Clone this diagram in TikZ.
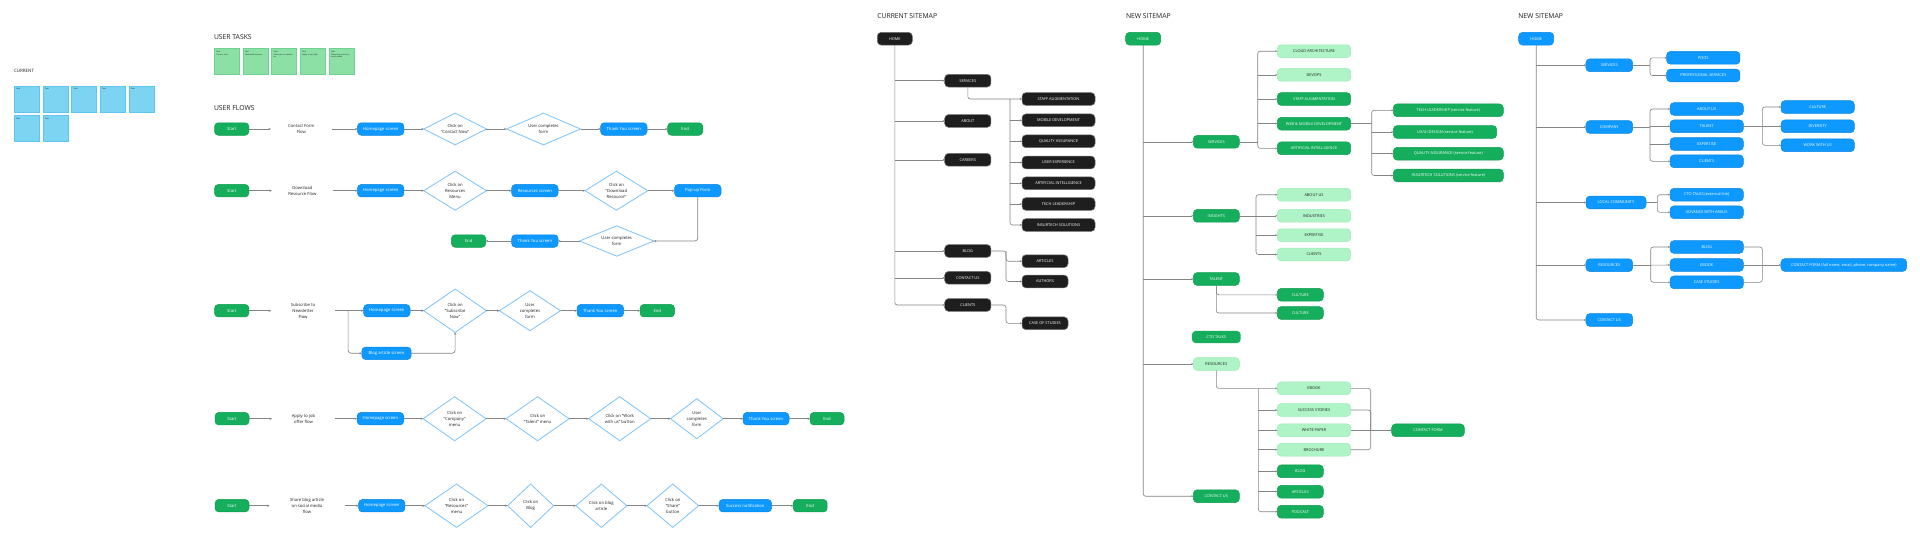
\documentclass[tikz,border=0pt]{standalone}
\usepackage{fontspec}
\setmainfont{Open Sans}
\usetikzlibrary{shapes.geometric,arrows.meta}
\definecolor{fgreen}{HTML}{14AE5C}
\definecolor{fgreenb}{HTML}{0F9D50}
\definecolor{flight}{HTML}{AFF4C6}
\definecolor{flightb}{HTML}{9BEBB6}
\definecolor{fblue}{HTML}{0D99FF}
\definecolor{fblueb}{HTML}{0B86E0}
\definecolor{fblack}{HTML}{1E1E1E}
\definecolor{dia}{HTML}{7CC4FA}
\definecolor{cgray}{HTML}{858585}
\definecolor{stblue}{HTML}{7DD3F2}
\definecolor{stblueb}{HTML}{5EC6EC}
\definecolor{stgreen}{HTML}{8CE0A6}
\definecolor{stgreenb}{HTML}{6ED392}
\definecolor{ink}{HTML}{1E1E1E}
\begin{document}
\begin{tikzpicture}[x=1pt,y=-1pt,
  every node/.style={inner sep=0pt, outer sep=0pt},
  hdr/.style={anchor=west, font=\fontsize{6.8}{8}\selectfont, text=ink},
  pill/.style={rounded corners=3.8pt, minimum height=12.5pt, align=center, font=\fontsize{4.2}{5}\selectfont, line width=0.5pt},
  gflow/.style={pill, fill=fgreen, draw=fgreenb, text=white},
  bflow/.style={pill, fill=fblue, draw=fblueb, text=white},
  dmd/.style={diamond, aspect=1.6, draw=dia, fill=white, line width=0.8pt, align=center, font=\fontsize{4.2}{6}\selectfont, text=ink},
  ftext/.style={align=center, font=\fontsize{4.2}{6}\selectfont, text=ink},
  farr/.style={draw=cgray, line width=0.7pt, -{Stealth[length=2.4pt,width=2.2pt]}},
  fline/.style={draw=cgray, line width=0.7pt},
  sm/.style={rounded corners=3.8pt, minimum height=12.7pt, align=center, font=\fontsize{3.9}{5}\selectfont, line width=0.5pt},
  knode/.style={sm, fill=fblack, draw=black!55, text=white},
  gnode/.style={sm, fill=fgreen, draw=fgreenb, text=white},
  lnode/.style={sm, fill=flight, draw=flightb, text=ink},
  bnode/.style={sm, fill=fblue, draw=fblueb, text=white},
  sarr/.style={draw=cgray, line width=0.6pt, rounded corners=2.5pt, -{Stealth[length=2pt,width=2pt]}},
  sline/.style={draw=cgray, line width=0.6pt, rounded corners=2.5pt},
  sticky/.style={minimum width=25pt, minimum height=26pt, line width=0.6pt},
  bsticky/.style={sticky, fill=stblue, draw=stblueb},
  gsticky/.style={sticky, fill=stgreen, draw=stgreenb},
  stxt/.style={anchor=north west, align=left, font=\fontsize{1.9}{2.6}\selectfont, text=ink, text width=21pt}
]
\fill[white] (0,0) rectangle (1920,547);
\useasboundingbox (0,0) rectangle (1920,547);

% ---------------- CURRENT sticky notes
\node[anchor=west, font=\fontsize{4.5}{5}\selectfont, text=ink] (hcur) at (14,71) {CURRENT};
\node[bsticky] (c1) at (26.8,99) {};
\node[bsticky] (c2) at (55.5,99) {};
\node[bsticky] (c3) at (84.2,99) {};
\node[bsticky] (c4) at (112.8,99) {};
\node[bsticky] (c5) at (141.5,99) {};
\node[bsticky] (c6) at (26.8,128.5) {};
\node[bsticky] (c7) at (55.5,128.5) {};
\foreach \n in {c1,c2,c3,c4,c5,c6,c7}{\node[stxt] (\n t) at ([shift={(2,2.5)}]\n.north west) {Task};}

% ---------------- USER TASKS
\node[hdr] (htasks) at (214,36.7) {USER TASKS};
\node[gsticky] (g1) at (226.8,61.7) {};
\node[gsticky] (g2) at (255.5,61.7) {};
\node[gsticky] (g3) at (284.2,61.7) {};
\node[gsticky] (g4) at (312.8,61.7) {};
\node[gsticky] (g5) at (341.5,61.7) {};
\node[stxt] (g1t) at ([shift={(2,2.5)}]g1.north west) {Task\\Contact form};
\node[stxt] (g2t) at ([shift={(2,2.5)}]g2.north west) {Task\\Download resource};
\node[stxt] (g3t) at ([shift={(2,2.5)}]g3.north west) {Task\\Subscribe to newsletter};
\node[stxt] (g4t) at ([shift={(2,2.5)}]g4.north west) {Task\\Apply to job offer};
\node[stxt] (g5t) at ([shift={(2,2.5)}]g5.north west) {Task\\Share blog article on social media};

% ---------------- USER FLOWS
\node[hdr] (hflows) at (214,107.7) {USER FLOWS};

% Row 1
\node[gflow, minimum width=34.4pt] (s1) at (231.7,129) {Start};
\node[ftext, minimum width=61pt] (t1) at (301.3,129) {Contact Form\\Flow};
\node[bflow, minimum width=46.5pt] (h1) at (380.7,129) {Homepage screen};
\node[dmd, minimum width=62.7pt, minimum height=31.7pt] (d11) at (455.1,129) {Click on\\“Contact Now”};
\node[dmd, minimum width=74pt, minimum height=31.7pt] (d12) at (543.5,129) {User completes\\form};
\node[bflow, minimum width=46.5pt] (ty1) at (623.8,129) {Thank You screen};
\node[gflow, minimum width=35.2pt] (e1) at (685.2,129) {End};
\draw[farr] (s1) -- (t1);
\draw[farr] (t1) -- (h1);
\draw[farr] (h1) -- (d11);
\draw[farr] (d11) -- (d12);
\draw[farr] (d12) -- (ty1);
\draw[farr] (ty1) -- (e1);

% Row 2
\node[gflow, minimum width=34.4pt] (s2) at (231.7,190.7) {Start};
\node[ftext, minimum width=61pt] (t2) at (302.3,190.7) {Download\\Resource Flow};
\node[bflow, minimum width=46.5pt] (h2) at (380.7,190.7) {Homepage screen};
\node[dmd, minimum width=62.7pt, minimum height=39pt] (d21) at (455.1,190.7) {Click on\\Resources\\Menu};
\node[bflow, minimum width=46.5pt] (rs2) at (534.9,190.7) {Resources screen};
\node[dmd, minimum width=62.7pt, minimum height=39pt] (d22) at (616.4,190.7) {Click on\\“Download\\Resource”};
\node[bflow, minimum width=46.5pt] (pop) at (697.8,190.7) {Pop-up Form};
\node[dmd, minimum width=74.4pt, minimum height=30.3pt] (d23) at (616.7,241) {User completes\\form};
\node[bflow, minimum width=46.5pt] (ty2) at (534.9,241) {Thank You screen};
\node[gflow, minimum width=34.4pt] (e2) at (468.6,241) {End};
\draw[farr] (s2) -- (t2);
\draw[farr] (t2) -- (h2);
\draw[farr] (h2) -- (d21);
\draw[farr] (d21) -- (rs2);
\draw[farr] (rs2) -- (d22);
\draw[farr] (d22) -- (pop);
\draw[farr, rounded corners=3pt] (pop.south) |- (d23.east);
\draw[farr] (d23) -- (ty2);
\draw[farr] (ty2) -- (e2);

% Row 3
\node[gflow, minimum width=34.4pt] (s3) at (231.7,310.7) {Start};
\node[ftext, minimum width=64pt] (t3) at (303,310.7) {Subscribe to\\Newsletter\\Flow};
\coordinate (br3) at (348.1,310.7);
\node[bflow, minimum width=46.4pt] (h3) at (386.8,310.7) {Homepage screen};
\node[bflow, minimum width=49.3pt] (bl3) at (386.5,353.3) {Blog article screen};
\node[dmd, minimum width=62.7pt, minimum height=43.4pt] (d31) at (455.1,310.7) {Click on\\“Subscribe\\Now”};
\node[dmd, minimum width=61pt, minimum height=40pt] (d32) at (530,310.7) {User\\completes\\form};
\node[bflow, minimum width=46.6pt] (ty3) at (600.3,310.7) {Thank You screen};
\node[gflow, minimum width=34.5pt] (e3) at (657.3,310.7) {End};
\draw[farr] (s3) -- (t3);
\draw[fline] (t3) -- (br3);
\draw[farr] (br3) -- (h3);
\draw[farr, rounded corners=3pt] (br3) |- (bl3);
\draw[farr, rounded corners=3pt] (bl3) -| (d31);
\draw[farr] (h3) -- (d31);
\draw[farr] (d31) -- (d32);
\draw[farr] (d32) -- (ty3);
\draw[farr] (ty3) -- (e3);

% Row 4
\node[gflow, minimum width=34pt] (s4) at (232,418.7) {Start};
\node[ftext, minimum width=63pt] (t4) at (303.5,418.7) {Apply to job\\offer flow};
\node[bflow, minimum width=46.7pt] (h4) at (380.4,418.7) {Homepage screen};
\node[dmd, minimum width=63pt, minimum height=44pt] (d41) at (454.6,418.7) {Click on\\“Company”\\menu};
\node[dmd, minimum width=63pt, minimum height=44pt] (d42) at (537.6,418.7) {Click on\\“Talent” menu};
\node[dmd, minimum width=62pt, minimum height=44pt] (d43) at (619.7,418.7) {Click on “Work\\with us” button};
\node[dmd, minimum width=52.5pt, minimum height=40pt] (d44) at (696.8,418.7) {User\\completes\\form};
\node[bflow, minimum width=46pt] (ty4) at (766,418.7) {Thank You screen};
\node[gflow, minimum width=34pt] (e4) at (827,418.7) {End};
\draw[farr] (s4) -- (t4);
\draw[farr] (t4) -- (h4);
\draw[farr] (h4) -- (d41);
\draw[farr] (d41) -- (d42);
\draw[farr] (d42) -- (d43);
\draw[farr] (d43) -- (d44);
\draw[farr] (d44) -- (ty4);
\draw[farr] (ty4) -- (e4);

% Row 5
\node[gflow, minimum width=34pt] (s5) at (232,505.7) {Start};
\node[ftext, minimum width=75pt] (t5) at (307,505.7) {Share blog article\\on social media\\flow};
\node[bflow, minimum width=46.3pt] (h5) at (381.8,505.7) {Homepage screen};
\node[dmd, minimum width=63pt, minimum height=43.3pt] (d51) at (456.5,505.7) {Click on\\“Resources”\\menu};
\node[dmd, minimum width=46pt, minimum height=43.3pt] (d52) at (530.6,505.7) {Click on\\Blog};
\node[dmd, minimum width=51pt, minimum height=43.3pt] (d53) at (601.3,505.7) {Click on blog\\article};
\node[dmd, minimum width=51.7pt, minimum height=43.3pt] (d54) at (672.8,505.7) {Click on\\“Share”\\button};
\node[bflow, minimum width=52.5pt] (sn5) at (745.3,505.7) {Success notification};
\node[gflow, minimum width=34pt] (e5) at (810.2,505.7) {End};
\draw[farr] (s5) -- (t5);
\draw[farr] (t5) -- (h5);
\draw[farr] (h5) -- (d51);
\draw[farr] (d51) -- (d52);
\draw[farr] (d52) -- (d53);
\draw[farr] (d53) -- (d54);
\draw[farr] (d54) -- (sn5);
\draw[farr] (sn5) -- (e5);

% ---------------- CURRENT SITEMAP
\node[hdr] (hcs) at (877.3,15.7) {CURRENT SITEMAP};
\node[knode, minimum width=35pt] (khome) at (894.8,38.7) {HOME};
\node[knode, minimum width=46.3pt] (kserv) at (967.8,80.7) {SERVICES};
\node[knode, minimum width=46.3pt] (kabout) at (967.8,121) {ABOUT};
\node[knode, minimum width=46.3pt] (kcar) at (967.8,159.8) {CAREERS};
\node[knode, minimum width=46.3pt] (kblog) at (967.8,251) {BLOG};
\node[knode, minimum width=46.3pt] (kcont) at (967.8,277.8) {CONTACT US};
\node[knode, minimum width=46.3pt] (kcli) at (967.8,305) {CLIENTS};
\draw[sarr] (khome.south) |- (kcli.west);
\foreach \n in {kserv,kabout,kcar,kblog,kcont}{\draw[sarr] (khome.south |- \n.west) -- (\n.west);}
\node[knode, minimum width=73pt] (ks1) at (1058.5,99) {STAFF AUGMENTATION};
\node[knode, minimum width=73pt] (ks2) at (1058.5,120.3) {MOBILE DEVELOPMENT};
\node[knode, minimum width=73pt] (ks3) at (1058.5,141.3) {QUALITY ASSURANCE};
\node[knode, minimum width=73pt] (ks4) at (1058.5,162.5) {USER EXPERIENCE};
\node[knode, minimum width=73pt] (ks5) at (1058.5,183.3) {ARTIFICIAL INTELLIGENCE};
\node[knode, minimum width=73pt] (ks6) at (1058.5,204) {TECH LEADERSHIP};
\node[knode, minimum width=73pt] (ks7) at (1058.5,225) {INSURTECH  SOLUTIONS};
\coordinate (kcs) at (1010,99);
\draw[sarr] (kserv.south) |- (ks1.west);
\draw[sarr] (kcs) |- (ks7.west);
\foreach \n in {ks2,ks3,ks4,ks5,ks6}{\draw[sarr] (kcs |- \n.west) -- (\n.west);}
\node[knode, minimum width=46pt] (kart) at (1045,261.2) {ARTICLES};
\node[knode, minimum width=46pt] (kaut) at (1045,281.5) {AUTHORS};
\node[knode, minimum width=46pt] (kcase) at (1045,323.3) {CASE OF STUDIES};
\coordinate (kcb) at (1006,251);
\coordinate (kcc) at (1006,305);
\draw[sarr] (kblog.east) -- (kcb) |- (kart.west);
\draw[sarr] (kcb) |- (kaut.west);
\draw[sarr] (kcli.east) -- (kcc) |- (kcase.west);

% ---------------- NEW SITEMAP (green)
\node[hdr] (hns1) at (1126,15.7) {NEW SITEMAP};
\node[gnode, minimum width=35pt] (ghome) at (1143.2,38.7) {HOME};
\node[gnode, minimum width=46pt] (gserv) at (1216.3,141.8) {SERVICES};
\node[gnode, minimum width=46pt] (gins) at (1216.3,215.8) {INSIGHTS};
\node[gnode, minimum width=46pt] (gtal) at (1216.3,279) {TALENT};
\node[gnode, minimum width=49.3pt, draw=white] (gcto) at (1216.3,337) {CTO TALKS};
\node[lnode, minimum width=46pt] (gres) at (1216.3,364) {RESOURCES};
\node[gnode, minimum width=46pt] (gcont) at (1216.3,496.2) {CONTACT US};
\draw[sarr] (ghome.south) |- (gcont.west);
\foreach \n in {gserv,gins,gtal,gres}{\draw[sarr] (ghome.south |- \n.west) -- (\n.west);}

\node[lnode, minimum width=73.4pt] (gs1) at (1314,51.2) {CLOUD ARCHITECTURE};
\node[lnode, minimum width=73.4pt] (gs2) at (1314,74.8) {DEVOPS};
\node[gnode, minimum width=73.4pt] (gs3) at (1314,99) {STAFF AUGMENTATION};
\node[gnode, minimum width=73.4pt] (gs4) at (1314,123.7) {WEB \& MOBILE DEVELOPMENT};
\node[gnode, minimum width=73.4pt] (gs5) at (1314,148.3) {ARTIFICIAL INTELLIGENCE};
\coordinate (gns) at (1257.7,141.8);
\draw[sline] (gserv.east) -- (gns);
\draw[sarr] (gns) |- (gs1.west);
\draw[sarr] (gns) |- (gs5.west);
\foreach \n in {gs2,gs3,gs4}{\draw[sarr] (gns |- \n.west) -- (\n.west);}

\node[gnode, minimum width=110pt] (gw1) at (1448.3,110.3) {TECH LEADERSHIP (service feature)};
\node[gnode, minimum width=103.4pt] (gw2) at (1445,132) {UX/UI DESIGN (service feature)};
\node[gnode, minimum width=110pt] (gw3) at (1448.3,153.7) {QUALITY ASSURANCE (service feature)};
\node[gnode, minimum width=110pt] (gw4) at (1448.3,175.5) {INSURTECH  SOLUTIONS (service feature)};
\coordinate (gnw) at (1371.7,123.7);
\draw[sline] (gs4.east) -- (gnw);
\draw[sarr] (gnw) |- (gw1.west);
\draw[sarr] (gnw) |- (gw4.west);
\foreach \n in {gw2,gw3}{\draw[sarr] (gnw |- \n.west) -- (\n.west);}

\node[lnode, minimum width=73.4pt] (gi1) at (1314,194.7) {ABOUT US};
\node[lnode, minimum width=73.4pt] (gi2) at (1314,215.8) {INDUSTRIES};
\node[lnode, minimum width=73.4pt] (gi3) at (1314,235.2) {EXPERTISE};
\node[lnode, minimum width=73.4pt] (gi4) at (1314,254.5) {CLIENTS};
\coordinate (gni) at (1256,215.8);
\draw[sarr] (gins.east) -- (gi2.west);
\draw[sarr] (gni) |- (gi1.west);
\draw[sarr] (gni) |- (gi4.west);
\draw[sarr] (gni |- gi3.west) -- (gi3.west);

\node[gnode, minimum width=46pt] (gt1) at (1300.3,294.8) {CULTURE};
\node[gnode, minimum width=46pt] (gt2) at (1300.3,313) {CULTURE};
\draw[sarr] (gtal.south) |- (gt1.west);
\draw[sarr] (gtal.south) |- (gt2.west);

\node[lnode, minimum width=73.4pt] (gr1) at (1314,388.3) {EBOOK};
\node[lnode, minimum width=73.4pt] (gr2) at (1314,410) {SUCCESS STORIES};
\node[lnode, minimum width=73.4pt] (gr3) at (1314,430.3) {WHITE PAPER};
\node[lnode, minimum width=73.4pt] (gr4) at (1314,449.7) {BROCHURE};
\node[gnode, minimum width=46pt] (gr5) at (1300.3,471.3) {BLOG};
\node[gnode, minimum width=46pt] (gr6) at (1300.3,491.7) {ARTICLES};
\node[gnode, minimum width=46pt] (gr7) at (1300.3,511.7) {PODCAST};
\coordinate (gnr) at (1258.3,388.3);
\draw[sarr] (gres.south) |- (gr1.west);
\draw[sarr] (gnr) |- (gr7.west);
\foreach \n in {gr2,gr3,gr4,gr5,gr6}{\draw[sarr] (gnr |- \n.west) -- (\n.west);}
\node[gnode, minimum width=72.6pt] (gcf) at (1428,430.3) {CONTACT FORM};
\coordinate (gnm) at (1370.7,430.3);
\draw[sline] (gr1.east) -| (gnm);
\draw[sline] (gr2.east) -| (gnm);
\draw[sline] (gr4.east) -| (gnm);
\draw[sline] (gr3.east) -- (gnm);
\draw[sarr] (gnm) -- (gcf.west);

% ---------------- NEW SITEMAP (blue)
\node[hdr] (hns2) at (1518.3,15.7) {NEW SITEMAP};
\node[bnode, minimum width=35pt] (bhome) at (1536.2,38.7) {HOME};
\node[bnode, minimum width=46.7pt] (bserv) at (1609.3,65.3) {SERVICES};
\node[bnode, minimum width=46.7pt] (bcomp) at (1609.3,127) {COMPANY};
\node[bnode, minimum width=60pt] (bloc) at (1616,202.5) {LOCAL COMMUNITY};
\node[bnode, minimum width=46.7pt] (bres) at (1609.3,265.2) {RESOURCES};
\node[bnode, minimum width=46.7pt] (bcont) at (1609.3,320) {CONTACT US};
\draw[sarr] (bhome.south) |- (bcont.west);
\foreach \n in {bserv,bcomp,bloc,bres}{\draw[sarr] (bhome.south |- \n.west) -- (\n.west);}

\node[bnode, minimum width=73.3pt] (bs1) at (1703.3,57.8) {POOS};
\node[bnode, minimum width=73.3pt] (bs2) at (1703.3,75.5) {PROFESSIONAL SERVICES};
\coordinate (bns) at (1650,65.3);
\draw[sline] (bserv.east) -- (bns);
\draw[sarr] (bns) |- (bs1.west);
\draw[sarr] (bns) |- (bs2.west);

\node[bnode, minimum width=73.3pt] (bc1) at (1706.7,109) {ABOUT US};
\node[bnode, minimum width=73.3pt] (bc2) at (1706.7,126.3) {TALENT};
\node[bnode, minimum width=73.3pt] (bc3) at (1706.7,144) {EXPERTISE};
\node[bnode, minimum width=73.3pt] (bc4) at (1706.7,161.3) {CLIENTS};
\coordinate (bnc) at (1650,127);
\draw[sline] (bcomp.east) -- (bnc);
\draw[sarr] (bnc) |- (bc1.west);
\draw[sarr] (bnc) |- (bc4.west);
\foreach \n in {bc2,bc3}{\draw[sarr] (bnc |- \n.west) -- (\n.west);}

\node[bnode, minimum width=73.3pt] (bt1) at (1817.7,107) {CULTURE};
\node[bnode, minimum width=73.3pt] (bt2) at (1817.7,126.3) {DIVERSITY};
\node[bnode, minimum width=73.3pt] (bt3) at (1817.7,145.3) {WORK WITH US};
\coordinate (bnt) at (1762.3,126.3);
\draw[sline] (bc2.east) -- (bnt);
\draw[sarr] (bnt) |- (bt1.west);
\draw[sarr] (bnt) |- (bt3.west);
\draw[sarr] (bnt) -- (bt2.west);

\node[bnode, minimum width=73.3pt] (bl1) at (1706.7,194.7) {CTO TALKS (external link)};
\node[bnode, minimum width=73.3pt] (bl2) at (1706.7,212.3) {ADVANCE WITH ARKUS};
\coordinate (bnl) at (1657.3,202.5);
\draw[sline] (bloc.east) -- (bnl);
\draw[sarr] (bnl) |- (bl1.west);
\draw[sarr] (bnl) |- (bl2.west);

\node[bnode, minimum width=73.3pt] (br1) at (1706.7,247) {BLOG};
\node[bnode, minimum width=73.3pt] (br2) at (1706.7,265) {EBOOK};
\node[bnode, minimum width=73.3pt] (br3n) at (1706.7,282.3) {CASE STUDIES};
\coordinate (bnr) at (1650.7,265.2);
\draw[sline] (bres.east) -- (bnr);
\draw[sarr] (bnr) |- (br1.west);
\draw[sarr] (bnr) |- (br3n.west);
\draw[sarr] (bnr) -- (br2.west);
\node[bnode, minimum width=125.7pt] (bcf) at (1843.8,265) {CONTACT FORM (full name, email, phone, company name)};
\coordinate (bnm) at (1762.3,265);
\draw[sline] (br1.east) -| (bnm);
\draw[sline] (br3n.east) -| (bnm);
\draw[sline] (br2.east) -- (bnm);
\draw[sarr] (bnm) -- (bcf.west);
\end{tikzpicture}
\end{document}
